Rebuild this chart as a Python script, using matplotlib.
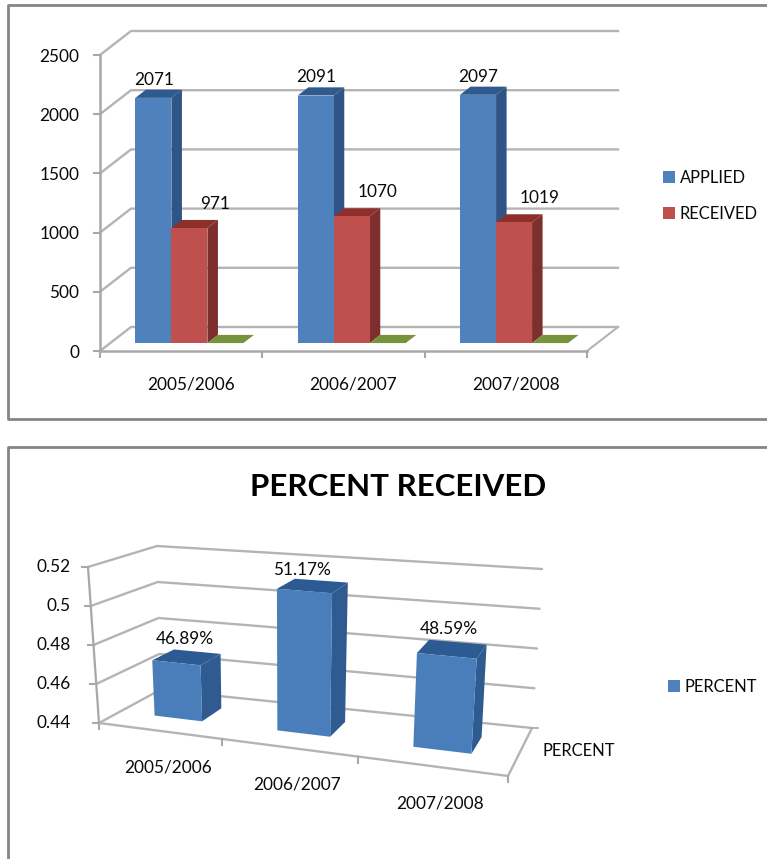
import numpy as np
import matplotlib
matplotlib.use("Agg")
import matplotlib.pyplot as plt
from matplotlib.patches import Patch, Polygon

plt.rcParams["font.family"] = ["Lato", "DejaVu Sans"]

# ---- data ----
years = ["2005/2006", "2006/2007", "2007/2008"]
applied = [2071, 2091, 2097]
received = [971, 1070, 1019]
third_series = [0, 0, 0]
percent = [0.4689, 0.5117, 0.4859]
percent_labels = ["46.89%", "51.17%", "48.59%"]
count_ticks = [0, 500, 1000, 1500, 2000, 2500]
share_ticks = [0.44, 0.46, 0.48, 0.50, 0.52]
share_tick_labels = ["0.44", "0.46", "0.48", "0.5", "0.52"]

W, H = 767, 859
GRID = "#b4b4b4"
AXIS = "#a8a8a8"
TEXT = "#0a0a0a"
FS = 12.4
LEGEND_FS = 11.9
fig = plt.figure(figsize=(W / 100, H / 100), dpi=100, facecolor="white")


def rect(x0, y_top, x1, y_bottom):
    """Figure-fraction rectangle from pixel edges (y measured downwards)."""
    return [x0 / W, 1 - y_bottom / H, (x1 - x0) / W, (y_bottom - y_top) / H]


# Page-level overlay: panel frames, and the pixel space used by the perspective chart
page = fig.add_axes([0, 0, 1, 1])
page.set_xlim(0, W)
page.set_ylim(H, 0)
page.axis("off")
FRAME = dict(color="#858585", lw=2, solid_capstyle="butt", zorder=1)
page.plot([767, 8, 8, 767], [5, 5, 419, 419], **FRAME)
page.plot([767, 8, 8], [447, 447, 859], **FRAME)

# ---- top chart: clustered columns with a constant oblique depth ----
ax = fig.add_axes(rect(100, 55, 587, 351))
ax.set_xlim(0, 3)
ax.set_ylim(0, 2500)
ax.patch.set_alpha(0)
for name in ("top", "right"):
    ax.spines[name].set_visible(False)
for name in ("left", "bottom"):
    ax.spines[name].set_color(AXIS)
    ax.spines[name].set_linewidth(1.8)
ax.set_yticks(count_ticks)
ax.set_xticks(range(4))
ax.set_xticklabels([])
ax.tick_params(axis="both", which="major", color=AXIS, width=1.5, length=5,
               labelsize=FS, labelcolor=TEXT)
ax.tick_params(axis="y", pad=10)
# Category labels sit under the floor's centre, nudged along the depth direction
ax.set_xticks([0.56, 1.56, 2.56], minor=True)
ax.set_xticklabels(years, minor=True, fontsize=FS, color=TEXT)
ax.tick_params(axis="x", which="minor", length=0, pad=18.5)

# Depth vector of the box in data units
DX = 31 / (487 / 3)
DY = 24 / (296 / 2500)


def off(x, y, d):
    return x + d * DX, y + d * DY


for v in count_ticks:
    x0, y0 = off(0, v, 0)
    x1, y1 = off(0, v, 1)
    x2, y2 = off(3, v, 1)
    ax.plot([x0, x1, x2], [y0, y1, y2], color=GRID, lw=1.7, clip_on=False, zorder=1)
x1, y1 = off(3, 0, 1)
ax.plot([3, x1], [0, y1], color=GRID, lw=1.5, clip_on=False, zorder=1)

BAR_W = 36 / (487 / 3)
GAP = 0.155
D0, D1 = 0.33, 0.67
SERIES = [
    (applied, "#4f81bd", "#2f5587", "#2f5a8e"),
    (received, "#c0504d", "#7c2f2d", "#8e2f2c"),
    (third_series, "#9bbb59", "#5f7530", "#77933c"),
]


def draw_box(x0, x1, v, front, side, top, z):
    corners = [
        ([off(x0, v, D0), off(x1, v, D0), off(x1, v, D1), off(x0, v, D1)], top),
        ([off(x1, 0, D0), off(x1, 0, D1), off(x1, v, D1), off(x1, v, D0)], side),
        ([off(x0, 0, D0), off(x1, 0, D0), off(x1, v, D0), off(x0, v, D0)], front),
    ]
    for pts, colour in corners:
        ax.add_patch(Polygon(pts, closed=True, fc=colour, ec="none", clip_on=False, zorder=z))


for s, (vals, front, side, top) in enumerate(SERIES):
    for i, v in enumerate(vals):
        x0 = i + GAP + s * BAR_W
        draw_box(x0, x0 + BAR_W, v, front, side, top, 3 + s)

for i, v in enumerate(applied):
    x, y = off(i + GAP + BAR_W / 2, v, D1)
    ax.annotate(str(v), (x, y), xytext=(-10, 10), textcoords="offset pixels",
                ha="center", va="center", fontsize=FS, color=TEXT,
                annotation_clip=False, zorder=8)
for i, v in enumerate(received):
    x, y = off(i + GAP + 1.5 * BAR_W, v, D1)
    ax.annotate(str(v), (x, y), xytext=(15, 16), textcoords="offset pixels",
                ha="center", va="center", fontsize=FS, color=TEXT,
                annotation_clip=False, zorder=8)

# ---- bottom chart: single series on a box drawn in perspective ----
FLOOR = np.array([[99, 723], [508, 776], [532, 728], [160, 690]], float)
CEIL = np.array([[88, 567], [520, 604], [542, 569], [157, 546]], float)
V_MIN, V_MAX = share_ticks[0], share_ticks[-1]
FORESHORTEN = 0.0167


def along(u):
    """Fraction along the category axis; near categories appear wider."""
    return u / 3 - FORESHORTEN * u * (3 - u)


def bilinear(quad, s, d):
    near = (1 - s) * quad[0] + s * quad[1]
    far = (1 - s) * quad[3] + s * quad[2]
    return (1 - d) * near + d * far


def project(u, d, v):
    t = (v - V_MIN) / (V_MAX - V_MIN)
    s = along(u)
    return tuple((1 - t) * bilinear(FLOOR, s, d) + t * bilinear(CEIL, s, d))


def path(points, **kw):
    xs, ys = zip(*points)
    page.plot(xs, ys, solid_capstyle="round", **kw)


for v in share_ticks:
    path([project(0, 0, v), project(0, 1, v), project(3, 1, v)], color=GRID, lw=1.7, zorder=2)
path([project(0, 0, V_MIN), project(0, 0, V_MAX)], color=AXIS, lw=1.6, zorder=2)
path([project(0, 0, V_MIN), project(3, 0, V_MIN), project(3, 1, V_MIN)], color=GRID, lw=1.7, zorder=2)

for v, lab in zip(share_ticks, share_tick_labels):
    x, y = project(0, 0, v)
    page.plot([x - 6, x], [y, y], color=AXIS, lw=1.5, zorder=2)
    page.text(71, y, lab, ha="right", va="center", fontsize=FS, color=TEXT)
for u in range(4):
    x, y = project(u, 0, V_MIN)
    page.plot([x, x], [y, y + 6], color=AXIS, lw=1.5, zorder=2)
x, y = project(3, 1, V_MIN)
page.plot([x, x + 6], [y, y], color=AXIS, lw=1.2, zorder=2)

B_FRONT = "#4a7ebb"
B_SIDE = "#2f5b91"
B_TOP = "#2c5a92"
PW = 0.40
PD0, PD1 = 0.35, 0.71
# Pixel nudges of each value label from the centre of its bar's front top edge
VALUE_NUDGE = [(9, -24), (-2, -21), (2, -27)]
for i, v in enumerate(percent):
    u0, u1 = i + 0.5 - PW / 2, i + 0.5 + PW / 2
    faces = [
        ([project(u0, PD0, v), project(u1, PD0, v), project(u1, PD1, v), project(u0, PD1, v)], B_TOP),
        ([project(u1, PD0, V_MIN), project(u1, PD1, V_MIN), project(u1, PD1, v), project(u1, PD0, v)], B_SIDE),
        ([project(u0, PD0, V_MIN), project(u1, PD0, V_MIN), project(u1, PD0, v), project(u0, PD0, v)], B_FRONT),
    ]
    for pts, colour in faces:
        page.add_patch(Polygon(pts, closed=True, fc=colour, ec="none", zorder=4))
    x, y = project(i + 0.5, PD0, v)
    page.text(x + VALUE_NUDGE[i][0], y + VALUE_NUDGE[i][1], percent_labels[i], ha="center",
              va="center", fontsize=FS, color=TEXT, zorder=6)
    x, y = project(i + 0.5, 0, V_MIN)
    page.text(x + 9, y + 37, years[i], ha="center", va="center", fontsize=FS, color=TEXT)

page.text(579, 751.5, "PERCENT", ha="center", va="center", fontsize=LEGEND_FS, color=TEXT)
page.text(398, 487, "PERCENT RECEIVED", ha="center", va="center", fontsize=22.5,
          fontweight="bold", color="#000000")

# ---- legends ----
fig.legend(handles=[Patch(fc="#4f81bd", label="APPLIED"), Patch(fc="#c0504d", label="RECEIVED")],
           loc="upper left", bbox_to_anchor=(663 / W, 1 - 170 / H), frameon=False, fontsize=LEGEND_FS,
           handlelength=0.73, handleheight=0.73, handletextpad=0.28, labelspacing=1.22,
           borderpad=0, borderaxespad=0, labelcolor=TEXT)
fig.legend(handles=[Patch(fc="#4f81bd", label="PERCENT")],
           loc="upper left", bbox_to_anchor=(668 / W, 1 - 679 / H), frameon=False, fontsize=LEGEND_FS,
           handlelength=0.73, handleheight=0.73, handletextpad=0.28,
           borderpad=0, borderaxespad=0, labelcolor=TEXT)

fig.savefig("out.png", dpi=100)
